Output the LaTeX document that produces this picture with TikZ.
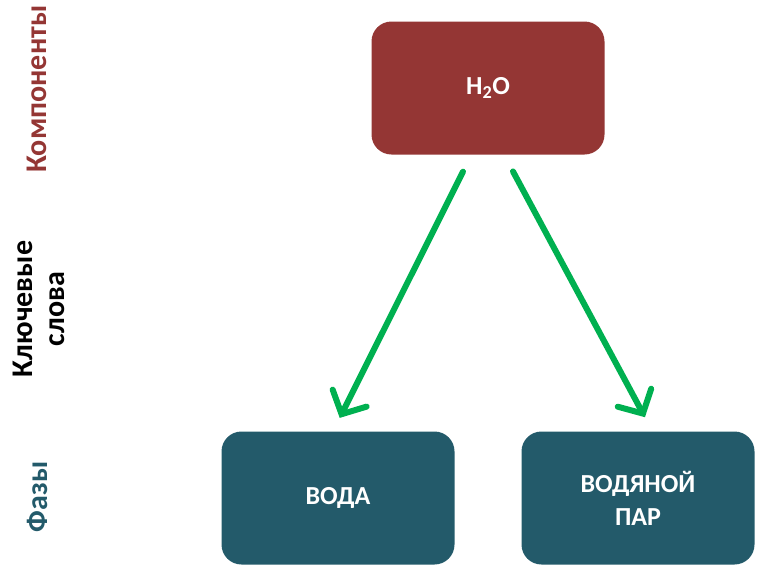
\documentclass[tikz,border=0pt]{standalone}
\usepackage{fontspec}
\setmainfont{Carlito}
\usetikzlibrary{arrows.meta, positioning, calc}

\definecolor{compred}{HTML}{943634}
\definecolor{phaseteal}{HTML}{235A6A}
\definecolor{arrowgreen}{HTML}{00B050}

\tikzset{
    % --- Rounded box for a term ---
    term box/.style = {
        rectangle, rounded corners=20pt,
        minimum width=233pt, minimum height=133pt,
        text=white, font=\bfseries\fontsize{26}{33}\selectfont,
        align=center, inner sep=0pt
    },
    % --- Component (top) ---
    component/.style = {term box, fill=compred},
    % --- Phase (bottom) ---
    phase/.style = {term box, fill=phaseteal},
    % --- Rotated row label ---
    row label/.style = {
        rotate=90, font=\bfseries\fontsize{30}{32}\selectfont,
        align=center, inner sep=0pt
    },
    % --- Green arrow ---
    link arrow/.style = {
        draw=arrowgreen, line width=6pt, line cap=round,
        -{Straight Barb[length=18pt, width=38pt, line cap=round]}
    }
}

\begin{document}
\begin{tikzpicture}[x=1pt, y=-1pt]

\useasboundingbox (0,0) rectangle (758,574);

% ---------------------------------------------------------
% Boxes
% ---------------------------------------------------------
\node[component] (water) at (488, 88) {H\textsubscript{2}O};
\node[phase] (liquid) at (338, 498) {ВОДА};
\node[phase] (vapour) at (638, 498) {ВОДЯНОЙ\\ПАР};

% ---------------------------------------------------------
% Row labels
% ---------------------------------------------------------
\node[row label, text=compred] (lblcomp) at (37, 89) {Компоненты};
\node[row label, text=black] (lblkey) at (39, 309) {Ключевые\\слова};
\node[row label, text=phaseteal] (lblphase) at (37, 497) {Фазы};

% ---------------------------------------------------------
% Arrows
% ---------------------------------------------------------
\draw[link arrow, shorten <=19pt, shorten >=15pt]
    ([xshift=-16.5pt]water.south) -- ([xshift=-5pt]liquid.north);
\draw[link arrow, shorten <=19pt, shorten >=16pt]
    ([xshift=16pt]water.south) -- ([xshift=14.5pt]vapour.north);

\end{tikzpicture}
\end{document}
